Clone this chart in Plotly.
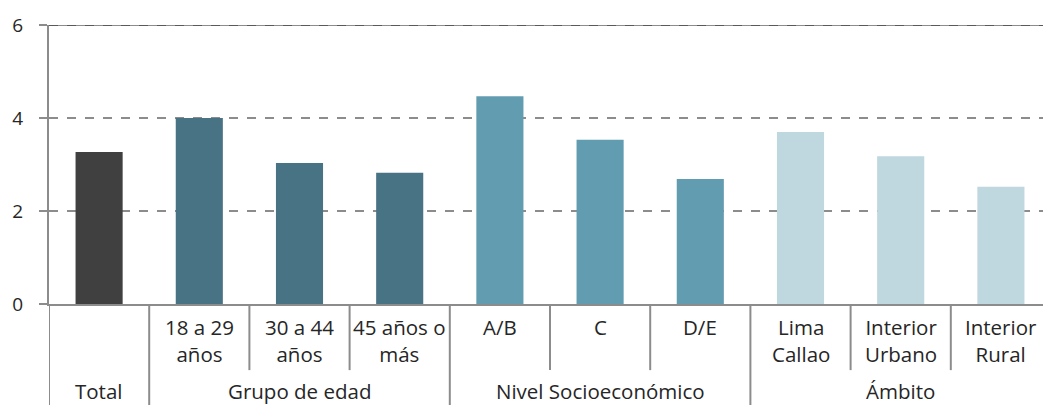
import plotly.graph_objects as go

# data
categories = ["Total", "18 a 29<br>años", "30 a 44<br>años", "45 años o<br>más",
              "A/B", "C", "D/E", "Lima<br>Callao", "Interior<br>Urbano", "Interior<br>Rural"]
values = [3.27, 4.0, 3.03, 2.82, 4.47, 3.53, 2.69, 3.70, 3.18, 2.52]
groups = ["Total", "Grupo de edad", "Grupo de edad", "Grupo de edad",
          "Nivel Socioeconómico", "Nivel Socioeconómico", "Nivel Socioeconómico",
          "Ámbito", "Ámbito", "Ámbito"]
group_colors = {
    "Total": "#404040",
    "Grupo de edad": "#487384",
    "Nivel Socioeconómico": "#629CB0",
    "Ámbito": "#BFD7DF",
}
y_ticks = [0, 2, 4, 6]

FONT = "Open Sans"
LINE = "#8c8c8c"
TXT = "#262626"

# plain index keys so that labels can be drawn in two rows underneath
keys = [str(i) for i in range(len(categories))]

fig = go.Figure(
    go.Bar(
        x=keys,
        y=values,
        width=0.47,
        marker=dict(color=[group_colors[g] for g in groups], line=dict(width=0)),
        hoverinfo="y",
    )
)

# top border at 6: grey line with darker dashes on it
fig.add_shape(type="line", xref="paper", yref="y", x0=0, x1=1, y0=6, y1=6,
              line=dict(color=LINE, width=2))
fig.add_shape(type="line", xref="paper", yref="y", x0=0, x1=1, y0=6, y1=6,
              line=dict(color="#5a5a5a", width=2, dash="dash"))

# first row labels
for i, lab in enumerate(categories):
    if i > 0:
        fig.add_annotation(x=keys[i], y=-0.026, xref="x", yref="paper", text=lab,
                           showarrow=False, yanchor="top",
                           font=dict(family=FONT, size=20.5, color=TXT))

# separators: group boundaries run to bottom, inner ones shorter
for i in range(len(categories)):
    new_group = i == 0 or groups[i] != groups[i - 1]
    fig.add_shape(type="line", xref="x", yref="paper",
                  x0=i - 0.5, x1=i - 0.5, y0=0, y1=-0.37 if new_group else -0.237,
                  line=dict(color=LINE, width=2))

# group labels
seen = []
for g in groups:
    if g not in seen:
        seen.append(g)
for g in seen:
    idx = [i for i, gg in enumerate(groups) if gg == g]
    mid = (idx[0] + idx[-1]) / 2
    fig.add_annotation(x=mid, y=-0.312, xref="x", yref="paper", text=g,
                       showarrow=False, yanchor="middle",
                       font=dict(family=FONT, size=20.5, color=TXT))

# page body keeps an 8px margin, so the figure is sized to land in the window
fig.update_layout(
    width=1043,
    height=397,
    margin=dict(l=41, r=0, t=17, b=101, autoexpand=False),
    plot_bgcolor="white",
    paper_bgcolor="white",
    showlegend=False,
    font=dict(family=FONT, size=20, color=TXT),
    xaxis=dict(
        type="category",
        automargin=False,
        showticklabels=False,
        showgrid=False,
        showline=True,
        linecolor=LINE,
        linewidth=2,
        ticks="",
        range=[-0.5, len(categories) - 0.5],
    ),
    yaxis=dict(
        range=[0, 6],
        automargin=False,
        tickvals=y_ticks,
        showgrid=True,
        gridcolor=LINE,
        gridwidth=2,
        griddash="dash",
        zeroline=False,
        showline=True,
        linecolor=LINE,
        linewidth=2,
        ticks="outside",
        ticklen=8,
        tickwidth=2,
        tickcolor=LINE,
        ticklabelstandoff=12,
        tickfont=dict(family=FONT, size=19, color=TXT),
    ),
)

fig.write_html("out.html")
